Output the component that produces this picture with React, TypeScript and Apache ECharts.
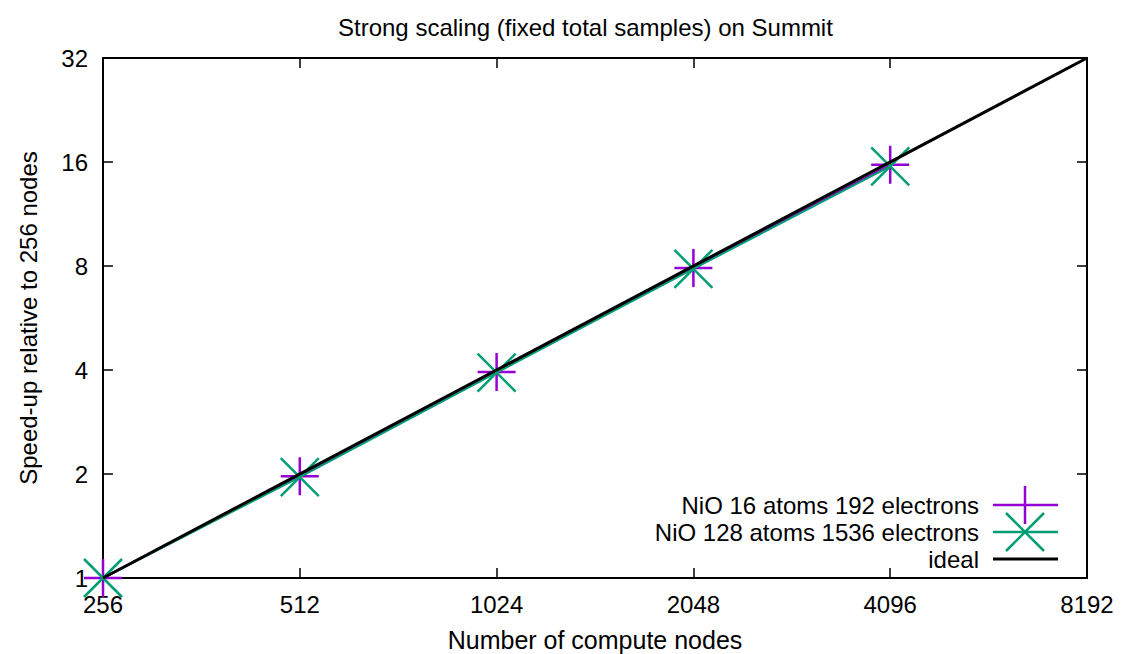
import React, { useEffect, useRef } from "react";
import * as echarts from "echarts";

const nodes = [256, 512, 1024, 2048, 4096];
const speedupNiO16 = [1, 1.97, 3.95, 7.9, 15.7];
const speedupNiO128 = [1, 1.96, 3.93, 7.85, 15.55];
const idealNodes = [256, 8192];
const idealSpeedup = [1, 32];

const titleText = "Strong scaling (fixed total samples) on Summit";
const xName = "Number of compute nodes";
const yName = "Speed-up relative to 256 nodes";
const legendNames = ["NiO 16 atoms 192 electrons", "NiO 128 atoms 1536 electrons", "ideal"];

const PURPLE = "#9400D3";
const GREEN = "#009E73";
const FONT = "Liberation Sans, Arial, Helvetica, sans-serif";

const PLUS = "path://M0,-10 L0,10 M-10,0 L10,0";
const CROSS = "path://M-10,-10 L10,10 M-10,10 L10,-10";

export default function App() {
  const ref = useRef<HTMLDivElement>(null);
  useEffect(() => {
    if (!ref.current) return;
    const chart = echarts.init(ref.current, null, { renderer: "svg" });
    const axisCommon = {
      type: "log" as const,
      logBase: 2,
      interval: 1,
      axisLine: { lineStyle: { color: "#000", width: 2 } },
      axisTick: { inside: true, length: 10, lineStyle: { color: "#000", width: 1.5 } },
      splitLine: { show: false },
    };
    const legendX = 979;
    const rows = [505, 532, 559];
    const graphics: any[] = [];
    rows.forEach((y, i) => {
      graphics.push({
        type: "text",
        x: legendX,
        y,
        style: {
          text: legendNames[i],
          font: `24px ${FONT}`,
          lineHeight: 24,
          fill: "#000",
          align: "right",
          verticalAlign: "middle",
        },
      });
      graphics.push({
        type: "line",
        shape: { x1: 993, y1: y, x2: 1058, y2: y },
        style: { stroke: i === 0 ? PURPLE : i === 1 ? GREEN : "#000", lineWidth: i === 2 ? 3 : 2.5 },
      });
    });
    graphics.push({ type: "line", shape: { x1: 1025, y1: rows[0] - 19, x2: 1025, y2: rows[0] + 19 }, style: { stroke: PURPLE, lineWidth: 2.5 } });
    graphics.push({ type: "line", shape: { x1: 1006, y1: rows[1] - 19, x2: 1044, y2: rows[1] + 19 }, style: { stroke: GREEN, lineWidth: 2.5 } });
    graphics.push({ type: "line", shape: { x1: 1006, y1: rows[1] + 19, x2: 1044, y2: rows[1] - 19 }, style: { stroke: GREEN, lineWidth: 2.5 } });

    const fmt = (v: number) => String(Math.round(v));

    chart.setOption({
      animation: false,
      backgroundColor: "#fff",
      textStyle: { fontFamily: FONT },
      title: {
        text: titleText,
        left: 333,
        top: 10,
        textStyle: { fontFamily: FONT, fontSize: 24, fontWeight: "normal", color: "#000" },
      },
      grid: { left: 103, right: 35, top: 58, bottom: 76, containLabel: false, outerBoundsMode: "none" },
      xAxis: [
        {
          ...axisCommon,
          min: 256,
          max: 8192,
          position: "bottom",
          name: xName,
          nameLocation: "middle",
          nameGap: 62,
          nameTextStyle: { fontFamily: FONT, fontSize: 25, color: "#000", verticalAlign: "middle" },
          axisLabel: { fontFamily: FONT, fontSize: 24, color: "#000", margin: 14, formatter: fmt },
        },
        {
          ...axisCommon,
          min: 256,
          max: 8192,
          position: "top",
          axisLabel: { show: false },
        },
      ],
      yAxis: [
        {
          ...axisCommon,
          min: 1,
          max: 32,
          position: "left",
          name: yName,
          nameLocation: "middle",
          nameGap: 75,
          nameRotate: 90,
          nameTextStyle: { fontFamily: FONT, fontSize: 24, color: "#000", verticalAlign: "middle" },
          axisLabel: { fontFamily: FONT, fontSize: 24, color: "#000", margin: 15, formatter: fmt },
        },
        {
          ...axisCommon,
          min: 1,
          max: 32,
          position: "right",
          axisLabel: { show: false },
        },
      ],
      series: [
        {
          type: "line",
          data: nodes.map((n, i) => [n, speedupNiO16[i]]),
          symbol: PLUS,
          symbolSize: 38,
          showAllSymbol: true,
          lineStyle: { color: PURPLE, width: 2 },
          itemStyle: { color: "none", borderColor: PURPLE, borderWidth: 2.5 },
          z: 2,
        },
        {
          type: "line",
          data: nodes.map((n, i) => [n, speedupNiO128[i]]),
          symbol: CROSS,
          symbolSize: 38,
          showAllSymbol: true,
          lineStyle: { color: GREEN, width: 2 },
          itemStyle: { color: "none", borderColor: GREEN, borderWidth: 2.5 },
          z: 3,
        },
        {
          type: "line",
          data: idealNodes.map((n, i) => [n, idealSpeedup[i]]),
          symbol: "none",
          lineStyle: { color: "#000", width: 3 },
          z: 4,
        },
      ],
      graphic: graphics,
    });
    return () => chart.dispose();
  }, []);
  return <div ref={ref} style={{ position: "fixed", left: 0, top: 0, width: 1122, height: 654 }} />;
}
